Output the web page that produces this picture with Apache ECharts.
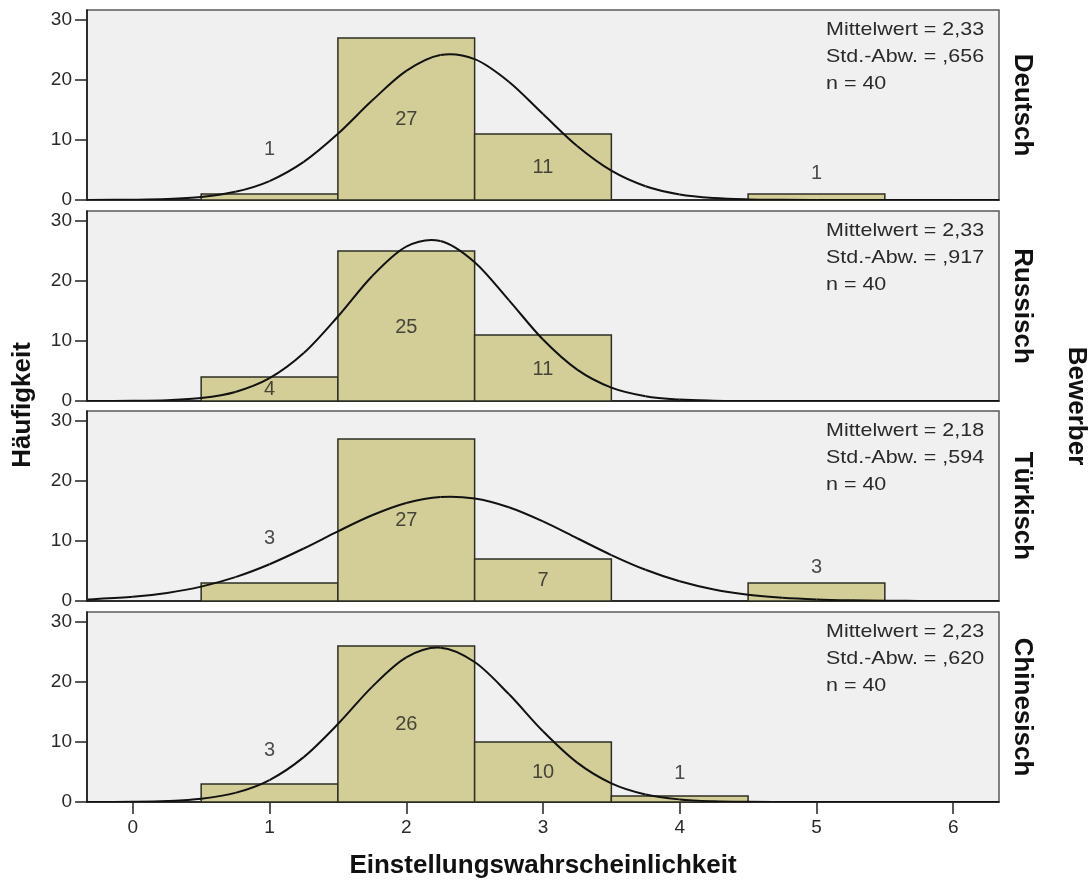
<!DOCTYPE html>
<html>
<head>
<meta charset="utf-8">
<script src="https://cdn.jsdelivr.net/npm/echarts@6/dist/echarts.min.js"></script>
<style>
html,body{margin:0;padding:0;background:#fff;}
#chart{width:1088px;height:881px;}
</style>
</head>
<body>
<div id="chart"></div>
<script>
// ---- data ----
const facetNames = ['Deutsch', 'Russisch', 'Türkisch', 'Chinesisch'];
const binCenters = [1, 2, 3, 4, 5];
const countsDeutsch = [1, 27, 11, 0, 1];
const countsRussisch = [4, 25, 11, 0, 0];
const countsTuerkisch = [3, 27, 7, 0, 3];
const countsChinesisch = [3, 26, 10, 1, 0];
// where each bar's count label sits (value units)
const labelYDeutsch = [8.5, 13.5, 5.4, null, 4.4];
const labelYRussisch = [1.9, 12.3, 5.2, null, null];
const labelYTuerkisch = [10.4, 13.5, 3.5, null, 5.6];
const labelYChinesisch = [8.6, 13.0, 4.9, 4.8, null];
// normal curves
const curveX = [-0.33, 0, 0.25, 0.5, 0.75, 1, 1.25, 1.5, 1.75, 2, 2.25, 2.5, 2.75, 3, 3.25, 3.5, 3.75, 4, 4.25, 4.5, 4.75, 5, 5.25, 5.5, 5.75, 6, 6.33];
const curveDeutsch = [0.01, 0.05, 0.16, 0.51, 1.36, 3.16, 6.35, 11.03, 16.57, 21.52, 24.17, 23.48, 19.72, 14.33, 9.00, 4.89, 2.30, 0.93, 0.33, 0.10, 0.03, 0.01, 0, 0, 0, 0, 0];
const curveRussisch = [0, 0.03, 0.14, 0.50, 1.51, 3.80, 7.99, 14.09, 20.80, 25.73, 26.66, 23.13, 16.82, 10.24, 5.23, 2.23, 0.80, 0.24, 0.06, 0.01, 0, 0, 0, 0, 0, 0, 0];
const curveTuerkisch = [0.26, 0.70, 1.35, 2.40, 3.98, 6.13, 8.75, 11.61, 14.29, 16.34, 17.34, 17.09, 15.63, 13.27, 10.46, 7.66, 5.20, 3.28, 1.92, 1.04, 0.53, 0.25, 0.11, 0.04, 0.02, 0.01, 0];
const curveChinesisch = [0.01, 0.04, 0.16, 0.54, 1.52, 3.66, 7.48, 12.99, 19.19, 24.10, 25.72, 23.33, 17.99, 11.79, 6.56, 3.11, 1.25, 0.43, 0.12, 0.03, 0.01, 0, 0, 0, 0, 0, 0];
const statMeans = ['2,33', '2,33', '2,18', '2,23'];
const statSDs = [',656', ',917', ',594', ',620'];
const statN = [40, 40, 40, 40];
const xTicks = [0, 1, 2, 3, 4, 5, 6];
const yTicks = [0, 10, 20, 30];
const xTitle = 'Einstellungswahrscheinlichkeit';
const yTitle = 'Häufigkeit';
const facetTitle = 'Bewerber';

const allCounts = [countsDeutsch, countsRussisch, countsTuerkisch, countsChinesisch];
const allLabelY = [labelYDeutsch, labelYRussisch, labelYTuerkisch, labelYChinesisch];
const allCurves = [curveDeutsch, curveRussisch, curveTuerkisch, curveChinesisch];

// ---- layout ----
const gridTops = [10, 211, 411, 612];
const gridH = 190;
const gridLeft = 87, gridRight = 89;
const FONT = '"Liberation Sans", Arial, sans-serif';
const BAR_FILL = '#d3ce97';

const grids = [], xAxes = [], yAxes = [], series = [], graphics = [];

function curveRenderer(curve) {
  return function (params, api) {
    const k = params.dataIndex;
    if (k >= curveX.length - 1) return null;
    const pt = j => api.coord([curveX[Math.max(0, Math.min(curveX.length - 1, j))], curve[Math.max(0, Math.min(curve.length - 1, j))]]);
    const p0 = pt(k - 1), p1 = pt(k), p2 = pt(k + 1), p3 = pt(k + 2);
    return {
      type: 'bezierCurve',
      shape: {
        x1: p1[0], y1: p1[1], x2: p2[0], y2: p2[1],
        cpx1: p1[0] + (p2[0] - p0[0]) / 6, cpy1: p1[1] + (p2[1] - p0[1]) / 6,
        cpx2: p2[0] - (p3[0] - p1[0]) / 6, cpy2: p2[1] - (p3[1] - p1[1]) / 6
      },
      style: {stroke: '#111', lineWidth: 2, fill: null}
    };
  };
}

gridTops.forEach((top, i) => {
  const last = i === gridTops.length - 1;
  grids.push({left: gridLeft, right: gridRight, top: top, height: gridH,
    show: true, backgroundColor: '#f0f0f0', borderColor: '#5a5a5a', borderWidth: 1.5});
  xAxes.push({type: 'value', gridIndex: i, min: -0.335, max: 6.335,
    splitLine: {show: false},
    axisLine: {show: true, onZero: false, lineStyle: {color: '#111', width: 1.5}},
    axisTick: {show: last, length: 12, lineStyle: {color: '#222', width: 1.5}, customValues: xTicks},
    axisLabel: {show: last, margin: 16, fontSize: 19, fontFamily: FONT, color: '#2a2a2a', customValues: xTicks}
  });
  yAxes.push({type: 'value', gridIndex: i, min: 0, max: 31.67,
    splitLine: {show: false},
    axisLine: {show: true, onZero: false, lineStyle: {color: '#111', width: 1.5}},
    axisTick: {show: true, length: 12, lineStyle: {color: '#222', width: 1.5}, customValues: yTicks},
    axisLabel: {show: true, margin: 15, fontSize: 19, fontFamily: FONT, color: '#2a2a2a', customValues: yTicks}
  });
  const counts = allCounts[i];
  series.push({
    type: 'custom', xAxisIndex: i, yAxisIndex: i, z: 2,
    data: binCenters.map((b, k) => [b, counts[k]]),
    encode: {x: 0, y: 1},
    renderItem: function (params, api) {
      const x = api.value(0), c = api.value(1);
      if (!c) return null;
      const p0 = api.coord([x - 0.5, c]);
      const p1 = api.coord([x + 0.5, 0]);
      return {type: 'rect', shape: {x: p0[0], y: p0[1], width: p1[0] - p0[0], height: p1[1] - p0[1]},
        style: {fill: BAR_FILL, stroke: '#2e2e24', lineWidth: 1.5}};
    }
  });
  series.push({
    type: 'custom', xAxisIndex: i, yAxisIndex: i, z: 3, clip: true, silent: true,
    data: curveX.map((x, k) => [x, allCurves[i][k]]),
    encode: {x: 0, y: 1},
    renderItem: curveRenderer(allCurves[i])
  });
  const ly = allLabelY[i];
  series.push({
    type: 'scatter', xAxisIndex: i, yAxisIndex: i, z: 4, symbolSize: 0,
    data: binCenters.map((b, k) => [b, ly[k], counts[k]]).filter(d => d[1] !== null && d[2] > 0),
    label: {show: true, position: 'inside', formatter: p => String(p.value[2]),
      fontSize: 20, fontFamily: FONT, color: '#222'}
  });
  // stats box
  const lines = ['Mittelwert = ' + statMeans[i], 'Std.-Abw. = ' + statSDs[i], 'n = ' + statN[i]];
  lines.forEach((t, k) => {
    graphics.push({type: 'text', x: 826, y: top + 20 + k * 27, scaleX: 1.13, z: 10,
      style: {text: t, font: '19px ' + FONT, fill: '#2a2a2a', textAlign: 'left', textVerticalAlign: 'middle'}});
  });
  // facet label
  graphics.push({type: 'text', x: 1022, y: top + gridH / 2, rotation: -Math.PI / 2, z: 10,
    style: {text: facetNames[i], font: 'bold 26px ' + FONT, fill: '#111', textAlign: 'center', textVerticalAlign: 'middle'}});
});

graphics.push({type: 'text', x: 543, y: 866, z: 10,
  style: {text: xTitle, font: 'bold 26px ' + FONT, fill: '#111', textAlign: 'center', textVerticalAlign: 'middle'}});
graphics.push({type: 'text', x: 23, y: 405, rotation: Math.PI / 2, z: 10,
  style: {text: yTitle, font: 'bold 26px ' + FONT, fill: '#111', textAlign: 'center', textVerticalAlign: 'middle'}});
graphics.push({type: 'text', x: 1076, y: 406, rotation: -Math.PI / 2, z: 10,
  style: {text: facetTitle, font: 'bold 26px ' + FONT, fill: '#111', textAlign: 'center', textVerticalAlign: 'middle'}});

const chart = echarts.init(document.getElementById('chart'), null, {renderer: 'canvas'});
chart.setOption({
  animation: false,
  backgroundColor: '#ffffff',
  grid: grids, xAxis: xAxes, yAxis: yAxes, series: series, graphic: graphics
});
</script>
</body>
</html>
